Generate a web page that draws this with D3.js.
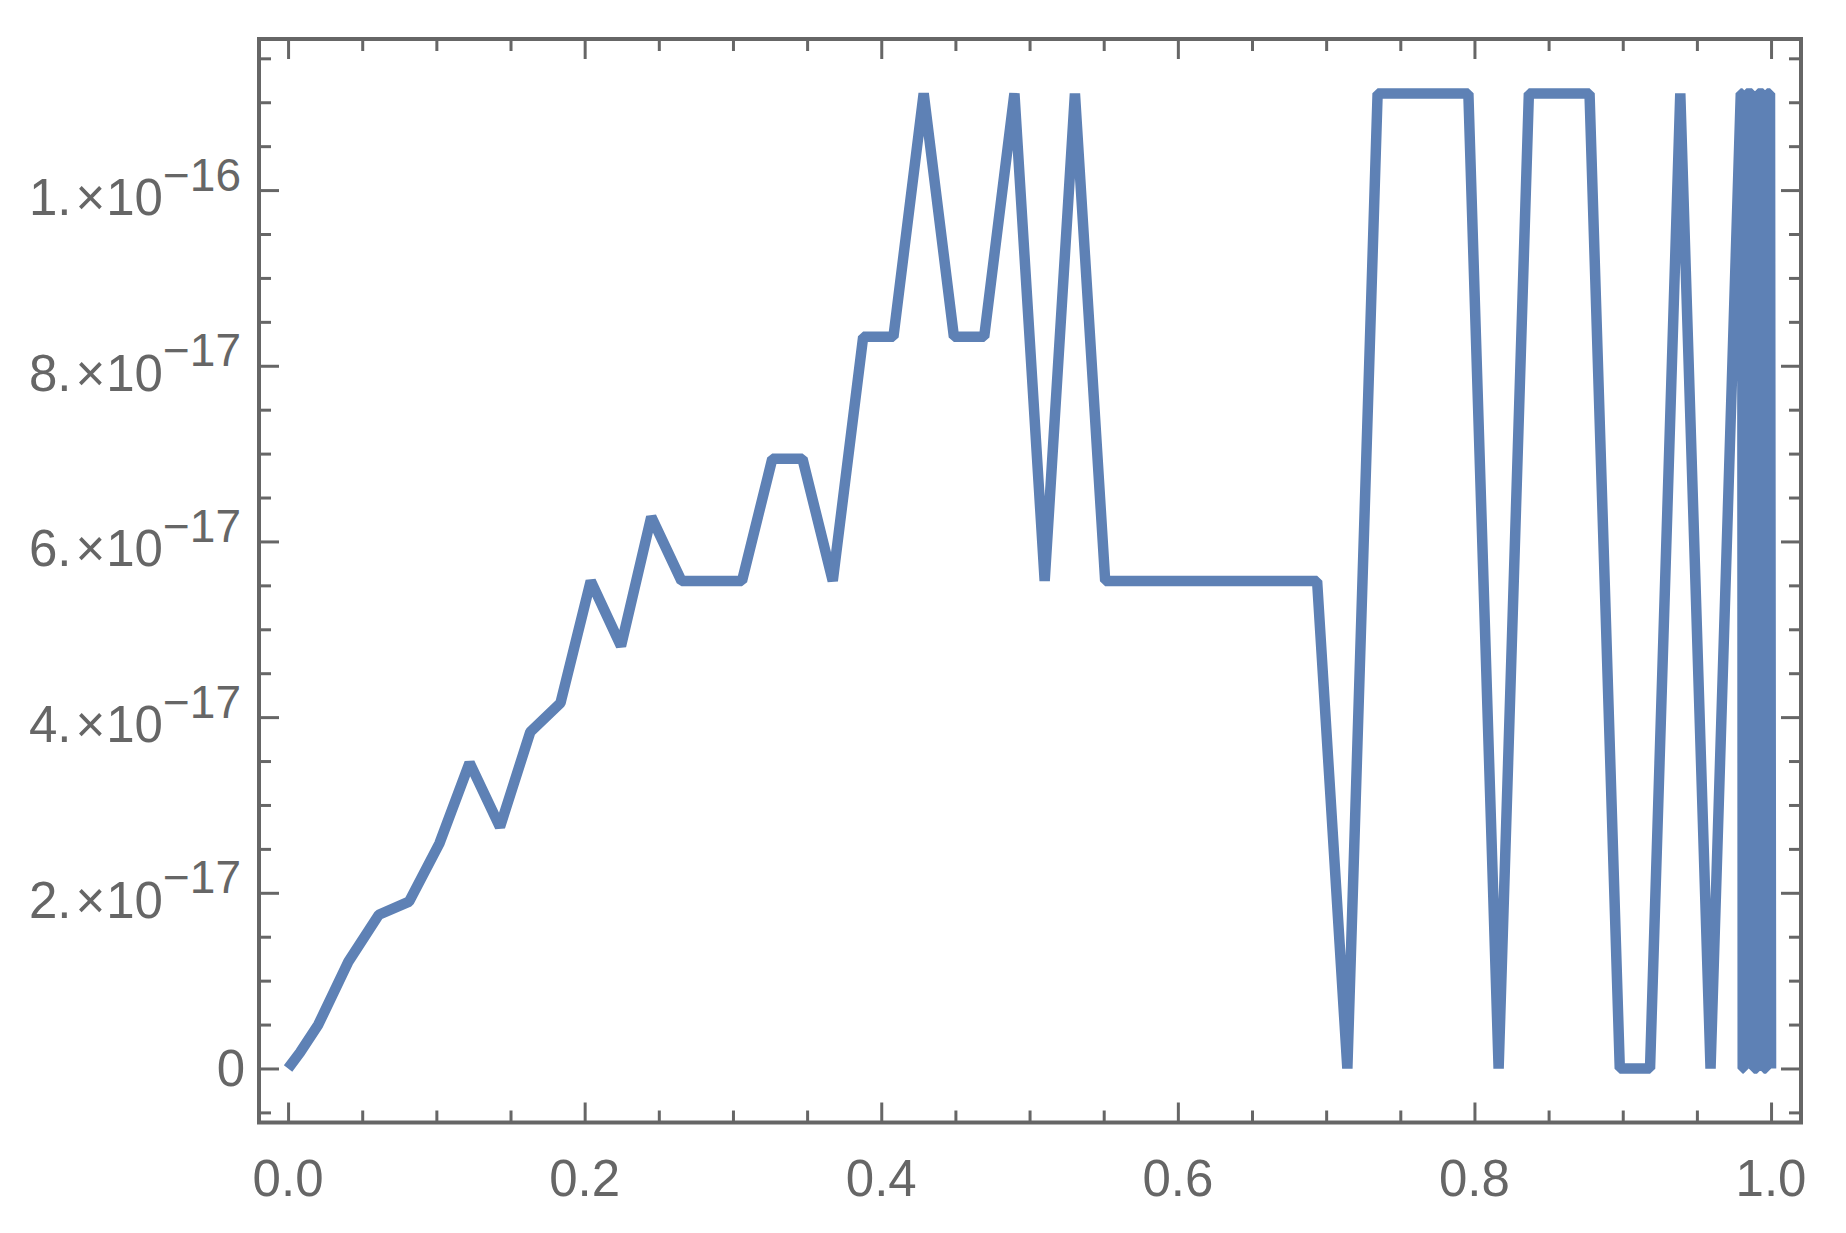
<!DOCTYPE html>
<html>
<head>
<meta charset="utf-8">
<script src="https://cdn.jsdelivr.net/npm/d3@7"></script>
<style>
  body { margin: 0; background: #ffffff; }
  svg { display: block; }
  text { font-family: "Liberation Sans", Arial, sans-serif; fill: #666666; }
</style>
</head>
<body>
<div id="chart"></div>
<script>
// ==========================================
// Rounding error plot (Mathematica style frame)
// ==========================================

// 1. DATA
// x positions of the sampled points, read off the picture
const xValues = [
    0, 0.008, 0.0204, 0.0408, 0.0612, 0.0816, 0.1020, 0.1224, 0.1429, 0.1633,
    0.1837, 0.2041, 0.2245, 0.2449, 0.2653, 0.2857, 0.3061, 0.3265, 0.3469, 0.3673,
    0.3878, 0.4082, 0.4286, 0.4490, 0.4694, 0.4898, 0.5102, 0.5306, 0.5510, 0.5714,
    0.5918, 0.6122, 0.6327, 0.6531, 0.6735, 0.6939, 0.7143, 0.7347, 0.7551, 0.7755,
    0.7959, 0.8163, 0.8367, 0.8571, 0.8776, 0.8980, 0.9184, 0.9388, 0.9592, 0.9796,
    // dense refinement right before x = 1
    0.9806, 0.9809, 0.9814, 0.9834, 0.9871, 0.9885, 0.9905, 0.9912, 0.9946, 0.9952, 0.9966, 0.9973, 0.9993, 1.0
];

// the error value at each point
const yValues = [
    0, 0.18e-17, 0.50e-17, 1.22e-17, 1.75e-17, 1.90e-17, 2.56e-17, 3.48e-17, 2.75e-17, 3.83e-17,
    4.16e-17, 5.55e-17, 4.81e-17, 6.28e-17, 5.55e-17, 5.55e-17, 5.55e-17, 6.94e-17, 6.94e-17, 5.55e-17,
    8.33e-17, 8.33e-17, 1.11e-16, 8.33e-17, 8.33e-17, 1.11e-16, 5.55e-17, 1.11e-16, 5.55e-17, 5.55e-17,
    5.55e-17, 5.55e-17, 5.55e-17, 5.55e-17, 5.55e-17, 5.55e-17, 0, 1.11e-16, 1.11e-16, 1.11e-16,
    1.11e-16, 0, 1.11e-16, 1.11e-16, 1.11e-16, 0, 0, 1.11e-16, 0, 1.11e-16,
    1.11e-16, 0, 0, 1.11e-16, 1.11e-16, 0, 0, 1.11e-16, 1.11e-16, 0, 0, 1.11e-16, 1.11e-16, 0
];

// ticks and labels
const xMajorTicks = [0, 0.2, 0.4, 0.6, 0.8, 1.0];
const xTickLabels = ["0.0", "0.2", "0.4", "0.6", "0.8", "1.0"];
const xMinorTicks = [0.05, 0.1, 0.15, 0.25, 0.3, 0.35, 0.45, 0.5, 0.55, 0.65, 0.7, 0.75, 0.85, 0.9, 0.95];

const yMajorTicks = [0, 2e-17, 4e-17, 6e-17, 8e-17, 1e-16];
const yTickBase = ["0", "2.", "4.", "6.", "8.", "1."];
const yTickExp = ["", "\u221217", "\u221217", "\u221217", "\u221217", "\u221216"];
const yMinorTicks = [-0.5e-17, 0.5e-17, 1e-17, 1.5e-17, 2.5e-17, 3e-17, 3.5e-17, 4.5e-17, 5e-17, 5.5e-17,
    6.5e-17, 7e-17, 7.5e-17, 8.5e-17, 9e-17, 9.5e-17, 10.5e-17, 11e-17, 11.5e-17];

const data = xValues.map(function(xv, i) {
    return { x: xv, y: yValues[i] };
});

// 2. SETUP
const W = 1846, H = 1233;
const frame = { left: 259, right: 1801, top: 39, bottom: 1122.5 };
const gray = "#666666";

const svg = d3.select("#chart")
    .append("svg")
    .attr("width", W)
    .attr("height", H);

svg.append("rect").attr("width", W).attr("height", H).attr("fill", "#ffffff");

// plot range has padding around the data, like Mathematica does
const x = d3.scaleLinear()
    .domain([-0.0196, 1.0202])
    .range([frame.left, frame.right]);

const y = d3.scaleLinear()
    .domain([-0.615e-17, 11.72e-17])
    .range([frame.bottom, frame.top]);

// 3. LINE
const line = d3.line()
    .x(function(d){ return x(d.x); })
    .y(function(d){ return y(d.y); });

svg.append("path")
    .datum(data)
    .attr("d", line)
    .attr("fill", "none")
    .attr("stroke", "#5E81B5")
    .attr("stroke-width", 10.5)
    .attr("stroke-linejoin", "bevel")
    .attr("stroke-linecap", "butt");

// 4. FRAME TICKS (all pointing inward)
function styleTicks(g) {
    g.attr("color", gray);
    g.select(".domain").remove();
    g.selectAll(".tick line").attr("stroke-width", 3);
}

const majorLen = 20, minorLen = 12;

// bottom + top
[[d3.axisBottom, frame.bottom], [d3.axisTop, frame.top]].forEach(function(a) {
    svg.append("g")
        .attr("transform", "translate(0," + a[1] + ")")
        .call(a[0](x).tickValues(xMajorTicks).tickSize(-majorLen).tickFormat(""))
        .call(styleTicks);
    svg.append("g")
        .attr("transform", "translate(0," + a[1] + ")")
        .call(a[0](x).tickValues(xMinorTicks).tickSize(-minorLen).tickFormat(""))
        .call(styleTicks);
});

// left + right
[[d3.axisLeft, frame.left], [d3.axisRight, frame.right]].forEach(function(a) {
    svg.append("g")
        .attr("transform", "translate(" + a[1] + ",0)")
        .call(a[0](y).tickValues(yMajorTicks).tickSize(-majorLen).tickFormat(""))
        .call(styleTicks);
    svg.append("g")
        .attr("transform", "translate(" + a[1] + ",0)")
        .call(a[0](y).tickValues(yMinorTicks).tickSize(-minorLen).tickFormat(""))
        .call(styleTicks);
});

// frame box
svg.append("rect")
    .attr("x", frame.left)
    .attr("y", frame.top)
    .attr("width", frame.right - frame.left)
    .attr("height", frame.bottom - frame.top)
    .attr("fill", "none")
    .attr("stroke", gray)
    .attr("stroke-width", 4);

// 5. TICK LABELS
svg.append("g")
    .selectAll("text")
    .data(xMajorTicks)
    .join("text")
    .attr("x", function(d){ return x(d); })
    .attr("y", 1196)
    .attr("text-anchor", "middle")
    .style("font-size", "51px")
    .text(function(d, i){ return xTickLabels[i]; });

// y labels like "2.×10^-17", written with tspans so the exponent is raised
const yLabels = svg.append("g")
    .selectAll("text")
    .data(yMajorTicks)
    .join("text")
    .attr("text-anchor", "end")
    .style("font-size", "51px")
    .attr("x", function(d, i){ return yTickExp[i] ? 241 : 245; })
    .attr("y", function(d, i){ return y(d) + (yTickExp[i] ? 25 : 17.5); });

yLabels.each(function(d, i) {
    const t = d3.select(this);
    t.append("tspan").text(yTickBase[i]);
    if (yTickExp[i]) {
        t.append("tspan").attr("dx", 4).text("\u00D7");
        t.append("tspan").attr("dx", 1).text("10");
        t.append("tspan")
            .attr("dy", -24.5)
            .style("font-size", "46px")
            .text(yTickExp[i]);
    }
});
</script>
</body>
</html>
